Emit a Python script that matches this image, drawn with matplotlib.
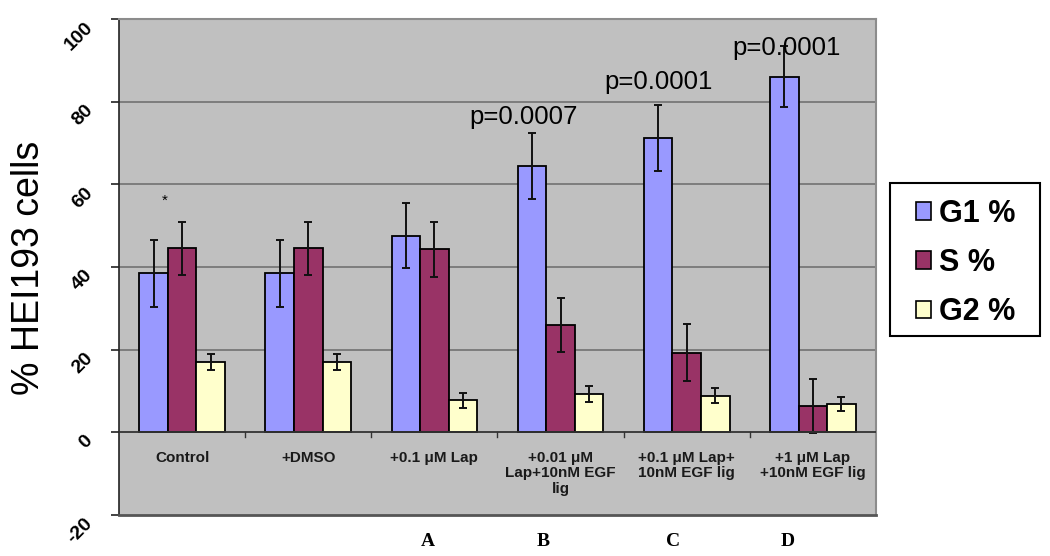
import matplotlib
matplotlib.use("Agg")
import matplotlib.pyplot as plt
import numpy as np
from matplotlib.patches import Patch, Rectangle

categories = ["Control", "+DMSO", "+0.1 \u03bcM Lap", "+0.01 \u03bcM\nLap+10nM EGF\nlig",
              "+0.1 \u03bcM Lap+\n10nM EGF lig", "+1 \u03bcM Lap\n+10nM EGF lig"]
series_names = ["G1 %", "S %", "G2 %"]
g1 = [38.5, 38.5, 47.6, 64.5, 71.3, 86.0]
g1_err = [8.1, 8.1, 7.8, 8.0, 8.0, 7.4]
s = [44.5, 44.5, 44.3, 26.0, 19.3, 6.4]
s_err = [6.5, 6.5, 6.7, 6.6, 7.0, 6.5]
g2 = [17.1, 17.1, 7.8, 9.2, 8.9, 6.8]
g2_err = [1.9, 1.9, 1.8, 1.9, 1.8, 1.7]
pvalues = ["", "", "", "p=0.0007", "p=0.0001", "p=0.0001"]
pvalue_y = [None, None, None, 76.4, 84.7, 93.0]
pvalue_dx = [0, 0, 0, -0.07, 0.0, 0.02]
panel_letters = ["", "", "A", "B", "C", "D"]
letter_dx = [0, 0, -0.05, -0.14, -0.11, -0.2]
yticks = [-20, 0, 20, 40, 60, 80, 100]

colors = ["#9999FF", "#993366", "#FFFFCC"]

plt.rcParams['font.family'] = ['Liberation Sans', 'DejaVu Sans']

fig = plt.figure(figsize=(10.5, 5.56), dpi=100)
ax = fig.add_axes([119/1050, 1-515/556, (876-119)/1050, (515-19)/556])
ax.set_facecolor("#C0C0C0")

n = len(categories)
x = np.arange(n)
w = 0.226
for i, (vals, errs) in enumerate([(g1, g1_err), (s, s_err), (g2, g2_err)]):
    ax.bar(x + (i-1)*w, vals, width=w, color=colors[i], edgecolor="black", linewidth=1.3, zorder=3)
    ax.errorbar(x + (i-1)*w, vals, yerr=errs, fmt='none', ecolor="#111111", elinewidth=1.4,
                capsize=3.2, capthick=1.4, zorder=4)

ax.set_xlim(-0.5, n-0.5)
ax.set_ylim(-20, 100)
for yv in [20, 40, 60, 80]:
    ax.axhline(yv, color="#6a6a6a", linewidth=1.1, zorder=1)
ax.axhline(0, color="#333333", linewidth=1.3, zorder=5)

# category tick marks on zero line
for xb in np.arange(0.5, n-0.5, 1.0):
    ax.plot([xb, xb], [0, -1.2], color="#333333", linewidth=1.0, zorder=5)

ax.set_xticks([])
ax.set_yticks(yticks)
ax.set_yticklabels([str(t) for t in yticks], rotation=45, fontsize=14, fontweight='bold',
                   ha='right', va='top', rotation_mode='default')
ax.tick_params(axis='y', direction='out', length=6, width=1.2, pad=10.5, color="#222222")
for side in ["top", "right"]:
    ax.spines[side].set_color("#8c8c8c")
    ax.spines[side].set_linewidth(1.5)
ax.spines["left"].set_color("#222222")
ax.spines["left"].set_linewidth(1.2)
ax.spines["bottom"].set_color("#555555")
ax.spines["bottom"].set_linewidth(2.0)

fig.text(29/1050, 1-268/556, "% HEI193 cells", fontsize=27, rotation=90, ha='center', va='center')

for i, lab in enumerate(categories):
    ax.text(x[i], -4.6, lab, ha='center', va='top', fontsize=11, fontweight='bold',
            color="#1a1a1a", linespacing=1.1, zorder=6)

for i, p in enumerate(pvalues):
    if p:
        ax.text(x[i] - w + pvalue_dx[i], pvalue_y[i], p, ha='center', va='center',
                fontsize=18.5, zorder=6)

ax.text(x[0] - 0.135, 56.0, "*", ha='center', va='center', fontsize=11, zorder=6)

for i, L in enumerate(panel_letters):
    if L:
        ax.text(x[i] + letter_dx[i], -26.5, L, ha='center', va='center', fontsize=14,
                fontweight='bold', family='Liberation Serif', clip_on=False)

# legend frame
fig.patches.append(Rectangle((890/1050, 1-336/556), 150/1050, 153/556, transform=fig.transFigure,
                             facecolor="white", edgecolor="black", linewidth=1.5, zorder=1))
handles = [Patch(facecolor=colors[i], edgecolor="black", linewidth=1.2) for i in range(3)]
leg = fig.legend(handles, series_names, loc='center left', bbox_to_anchor=(916/1050, 1-263/556),
                 frameon=False, handlelength=0.5, handleheight=0.5, handletextpad=0.26,
                 labelspacing=0.63, borderpad=0, borderaxespad=0,
                 prop={'size': 22, 'weight': 'bold'})
leg.set_zorder(2)

fig.savefig("out.png", dpi=100, facecolor="white")
